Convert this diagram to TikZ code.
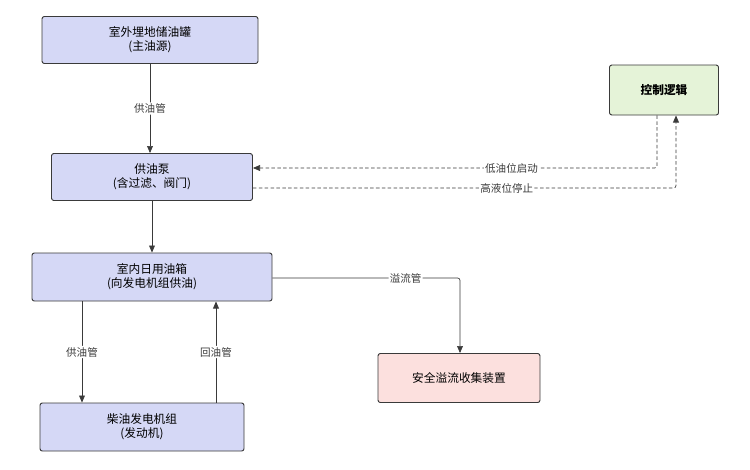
\documentclass[tikz,border=0pt]{standalone}
\usepackage{fontspec}
\setmainfont{Noto Sans CJK SC}
\usetikzlibrary{arrows.meta}
\definecolor{boxblue}{HTML}{D5D8F6}
\definecolor{boxgreen}{HTML}{E5F3D8}
\definecolor{boxred}{HTML}{FCE0DE}
\definecolor{edge}{HTML}{3A3A3A}
\begin{document}
\begin{tikzpicture}[x=0.03cm,y=-0.03cm,
    box/.style={rectangle, rounded corners=2pt, draw=edge, thick, align=center, font=\normalsize, inner sep=0},
    pipe/.style={draw=edge, semithick, -{Triangle[length=6pt,width=5pt]}, rounded corners=2pt},
    ctrl/.style={pipe, dash pattern=on 3pt off 2pt},
    lbl/.style={fill=white, font=\small, text=edge, inner sep=1pt}]
    \useasboundingbox (0,0) rectangle (750,469);
    \draw
    (150,40)node[box, fill=boxblue, minimum width=216*0.03cm, minimum height=47*0.03cm](tank){室外埋地储油罐\\(主油源)}
    (152,177)node[box, fill=boxblue, minimum width=201*0.03cm, minimum height=47*0.03cm](pump){供油泵\\(含过滤、阀门)}
    (152,277)node[box, fill=boxblue, minimum width=240*0.03cm, minimum height=48*0.03cm](day){室内日用油箱\\(向发电机组供油)}
    (142,427)node[box, fill=boxblue, minimum width=204*0.03cm, minimum height=48*0.03cm](gen){柴油发电机组\\(发动机)}
    (664,90)node[box, fill=boxgreen, minimum width=109*0.03cm, minimum height=50*0.03cm, font=\normalsize\bfseries](logic){控制逻辑}
    (459,378)node[box, fill=boxred, minimum width=162*0.03cm, minimum height=49*0.03cm](safe){安全溢流收集装置}
    ;
    \path[pipe] (tank.south) -- node[lbl]{供油管} (tank.south |- pump.north);
    \path[pipe] (pump.south) -- (pump.south |- day.north);
    \path[pipe] (day.south -| 82,0) -- node[lbl]{供油管} (gen.north -| 82,0);
    \path[pipe] (gen.north -| 216,0) -- node[lbl]{回油管} (day.south -| 216,0);
    \path[pipe] (day.east |- 0,278) -- node[lbl, pos=0.71]{溢流管} (460,278) -- (safe.north -| 460,0);
    \path[ctrl] (logic.south -| 657,0) -- (657,168) -- node[lbl, pos=0.36]{低油位启动} (pump.east |- 0,168);
    \path[ctrl] (pump.east |- 0,188) -- node[lbl, pos=0.6]{高液位停止} (676,188) -- (logic.south -| 676,0);
\end{tikzpicture}
\end{document}
